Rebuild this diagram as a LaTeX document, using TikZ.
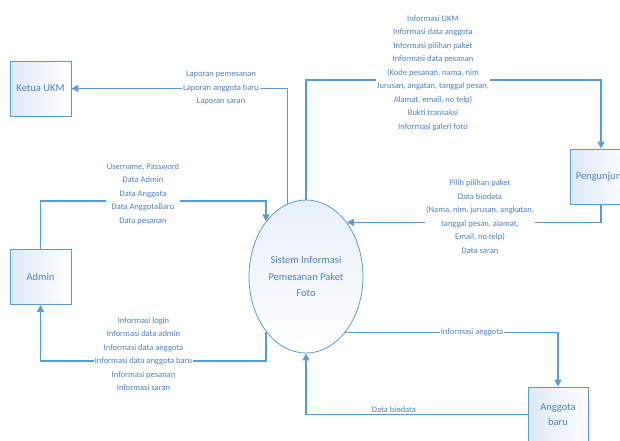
\documentclass[tikz,border=0pt]{standalone}
\usepackage{fontspec}
\setmainfont{Carlito}
\usetikzlibrary{arrows.meta,shapes.geometric}
\definecolor{lineblue}{RGB}{91,155,213}
\definecolor{txtblue}{RGB}{79,129,189}
\definecolor{fillblue}{RGB}{222,233,247}
\begin{document}
\begin{tikzpicture}[x=1pt,y=-1pt,
  entity/.style={draw=lineblue, line width=0.9pt, left color=fillblue, right color=white,
    minimum width=61pt, minimum height=55pt, inner sep=0pt, text=txtblue,
    font=\fontsize{10.5}{15}\selectfont, align=center},
  proc/.style={ellipse, draw=lineblue, line width=0.8pt, top color=fillblue!70, bottom color=white,
    minimum width=114pt, minimum height=153pt, inner sep=0pt, text=txtblue,
    font=\fontsize{10.5}{16.5}\selectfont, align=center},
  flow/.style={draw=lineblue, line width=1.2pt, -{Triangle[length=7pt,width=7pt]}},
  lbl/.style={fill=white, text=txtblue, font=\fontsize{8.5}{13.5}\selectfont, align=center, inner sep=1pt}]
\path[use as bounding box] (0,0) rectangle (620,440);
\clip (0,0) rectangle (620,440);

\node[entity] (ketua) at (40.5,88.5) {Ketua UKM};
\node[entity] (admin) at (40.5,277) {Admin};
\node[entity, minimum width=62pt] (peng) at (601,176.5) {Pengunjung};
\node[entity, minimum width=60pt] (ang) at (558,414.5) {Anggota\\baru};
\node[proc] (sys) at (306,276.5) {Sistem Informasi\\Pemesanan Paket\\Foto};

\coordinate (ytop) at (0,80);
\coordinate (yadm) at (0,201);
\coordinate (ylow) at (0,361);

\draw[flow] (sys.104) |- (ketua.east);
\draw[flow] (sys.north) |- (peng.north |- ytop) -- (peng.north);
\draw[flow] (admin.north) |- (yadm -| sys.126) -- (sys.126);
\draw[flow] (sys.234) |- (admin.south |- ylow) -- (admin.south);
\draw[flow] (peng.south) |- (sys.53);
\draw[flow] (sys.305) -| (ang.north);
\draw[flow] (ang.west) -| (sys.south);

\node[lbl] (l1) at (221,88) {Laporan pemesanan\\Laporan anggota baru\\Laporan saran};
\node[lbl] (l2) at (433,73) {Informasi UKM\\Informasi data anggota\\Informasi pilihan paket\\Informasi data pesanan\\(Kode pesanan, nama, nim\\Jurusan, angatan, tanggal pesan,\\Alamat, email, no telp)\\Bukti transaksi\\Informasi galeri foto};
\node[lbl] (l3) at (143,194) {Username, Password\\Data Admin\\Data Anggota\\Data AnggotaBaru\\Data pesanan};
\node[lbl] (l4) at (143.5,354) {Informasi login\\Informasi data admin\\Informasi data anggota\\Informasi data anggota baru\\Informasi pesanan\\Informasi saran};
\node[lbl] (l5) at (480,216.5) {Pilih pilihan paket\\Data biodata\\(Nama, nim, jurusan, angkatan,\\tanggal pesan, alamat,\\Email, no telp)\\Data saran};
\node[lbl] (l6) at (472,332) {Informasi anggota};
\node[lbl] (l7) at (394,410) {Data biodata};
\end{tikzpicture}
\end{document}
